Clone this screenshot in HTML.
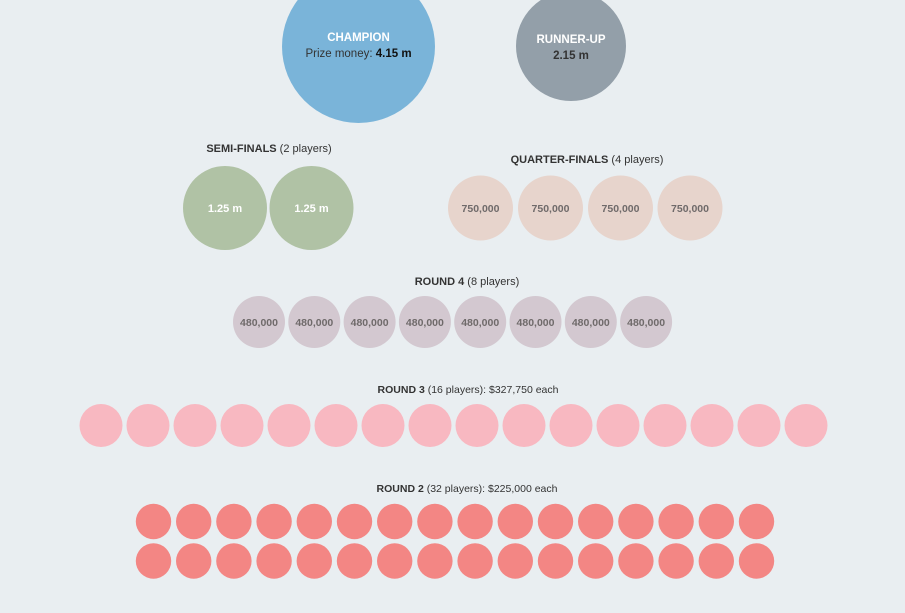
<!DOCTYPE html>
<html><head><meta charset="utf-8"><style>
html,body{margin:0;padding:0;background:#e9eef1;}
svg{display:block;font-family:"Liberation Sans",sans-serif;}
.l{font-size:11px;fill:#333;text-anchor:middle;}
.b{font-weight:bold;}
.w{fill:#fff;font-weight:bold;font-size:11px;text-anchor:middle;}
.g{fill:#6f6a6a;font-size:10.5px;font-weight:bold;text-anchor:middle;}
</style></head><body>
<svg width="905" height="613" viewBox="0 0 905 613" xmlns="http://www.w3.org/2000/svg">
<rect width="905" height="613" fill="#e9eef1"/>
<circle cx="358.5" cy="46.5" r="76.5" fill="#7ab4d9"/>
<text x="358.5" y="41" class="w" style="font-size:11.5px">CHAMPION</text>
<text x="358.5" y="57" class="l" style="font-size:11.5px">Prize money: <tspan class="b" fill="#111">4.15 m</tspan></text>
<circle cx="571" cy="46" r="55" fill="#939fa9"/>
<text x="571" y="43" class="w" style="font-size:11.5px">RUNNER-UP</text>
<text x="571" y="59" class="l b" style="font-size:11.5px" fill="#111">2.15 m</text>
<text x="269" y="152" class="l"><tspan class="b">SEMI-FINALS</tspan> (2 players)</text>
<circle cx="225" cy="208" r="42" fill="#b0c2a5"/>
<circle cx="311.5" cy="208" r="42" fill="#b0c2a5"/>
<text x="225" y="212" class="w">1.25 m</text>
<text x="311.5" y="212" class="w">1.25 m</text>
<text x="587" y="163" class="l"><tspan class="b">QUARTER-FINALS</tspan> (4 players)</text>
<g fill="#e7d4cc">
<circle cx="480.5" cy="208" r="32.5"/><circle cx="550.5" cy="208" r="32.5"/><circle cx="620.5" cy="208" r="32.5"/><circle cx="690" cy="208" r="32.5"/>
</g>
<text x="480.5" y="212" class="g">750,000</text><text x="550.5" y="212" class="g">750,000</text><text x="620.5" y="212" class="g">750,000</text><text x="690" y="212" class="g">750,000</text>
<text x="467" y="285" class="l"><tspan class="b">ROUND 4</tspan> (8 players)</text>
<g fill="#d3c8d0">
<circle cx="259" cy="322" r="26"/><circle cx="314.3" cy="322" r="26"/><circle cx="369.6" cy="322" r="26"/><circle cx="424.9" cy="322" r="26"/><circle cx="480.2" cy="322" r="26"/><circle cx="535.5" cy="322" r="26"/><circle cx="590.8" cy="322" r="26"/><circle cx="646.1" cy="322" r="26"/>
</g>
<g class="g">
<text x="259" y="326">480,000</text><text x="314.3" y="326">480,000</text><text x="369.6" y="326">480,000</text><text x="424.9" y="326">480,000</text><text x="480.2" y="326">480,000</text><text x="535.5" y="326">480,000</text><text x="590.8" y="326">480,000</text><text x="646.1" y="326">480,000</text>
</g>
<text x="468" y="393" class="l" style="font-size:10.5px"><tspan class="b">ROUND 3</tspan> (16 players):  $327,750 each</text>
<g fill="#f8b8c1">
<circle cx="101" cy="425.5" r="21.5"/><circle cx="148" cy="425.5" r="21.5"/><circle cx="195" cy="425.5" r="21.5"/><circle cx="242" cy="425.5" r="21.5"/><circle cx="289" cy="425.5" r="21.5"/><circle cx="336" cy="425.5" r="21.5"/><circle cx="383" cy="425.5" r="21.5"/><circle cx="430" cy="425.5" r="21.5"/><circle cx="477" cy="425.5" r="21.5"/><circle cx="524" cy="425.5" r="21.5"/><circle cx="571" cy="425.5" r="21.5"/><circle cx="618" cy="425.5" r="21.5"/><circle cx="665" cy="425.5" r="21.5"/><circle cx="712" cy="425.5" r="21.5"/><circle cx="759" cy="425.5" r="21.5"/><circle cx="806" cy="425.5" r="21.5"/>
</g>
<text x="467" y="492" class="l" style="font-size:10.5px"><tspan class="b">ROUND 2</tspan> (32 players):  $225,000 each</text>
<g fill="#f38684">
<circle cx="153.5" cy="521.5" r="17.7"/><circle cx="193.7" cy="521.5" r="17.7"/><circle cx="233.9" cy="521.5" r="17.7"/><circle cx="274.1" cy="521.5" r="17.7"/><circle cx="314.3" cy="521.5" r="17.7"/><circle cx="354.5" cy="521.5" r="17.7"/><circle cx="394.7" cy="521.5" r="17.7"/><circle cx="434.9" cy="521.5" r="17.7"/><circle cx="475.1" cy="521.5" r="17.7"/><circle cx="515.3" cy="521.5" r="17.7"/><circle cx="555.5" cy="521.5" r="17.7"/><circle cx="595.7" cy="521.5" r="17.7"/><circle cx="635.9" cy="521.5" r="17.7"/><circle cx="676.1" cy="521.5" r="17.7"/><circle cx="716.3" cy="521.5" r="17.7"/><circle cx="756.5" cy="521.5" r="17.7"/>
<circle cx="153.5" cy="561" r="17.7"/><circle cx="193.7" cy="561" r="17.7"/><circle cx="233.9" cy="561" r="17.7"/><circle cx="274.1" cy="561" r="17.7"/><circle cx="314.3" cy="561" r="17.7"/><circle cx="354.5" cy="561" r="17.7"/><circle cx="394.7" cy="561" r="17.7"/><circle cx="434.9" cy="561" r="17.7"/><circle cx="475.1" cy="561" r="17.7"/><circle cx="515.3" cy="561" r="17.7"/><circle cx="555.5" cy="561" r="17.7"/><circle cx="595.7" cy="561" r="17.7"/><circle cx="635.9" cy="561" r="17.7"/><circle cx="676.1" cy="561" r="17.7"/><circle cx="716.3" cy="561" r="17.7"/><circle cx="756.5" cy="561" r="17.7"/>
</g>
</svg>
</body></html>
